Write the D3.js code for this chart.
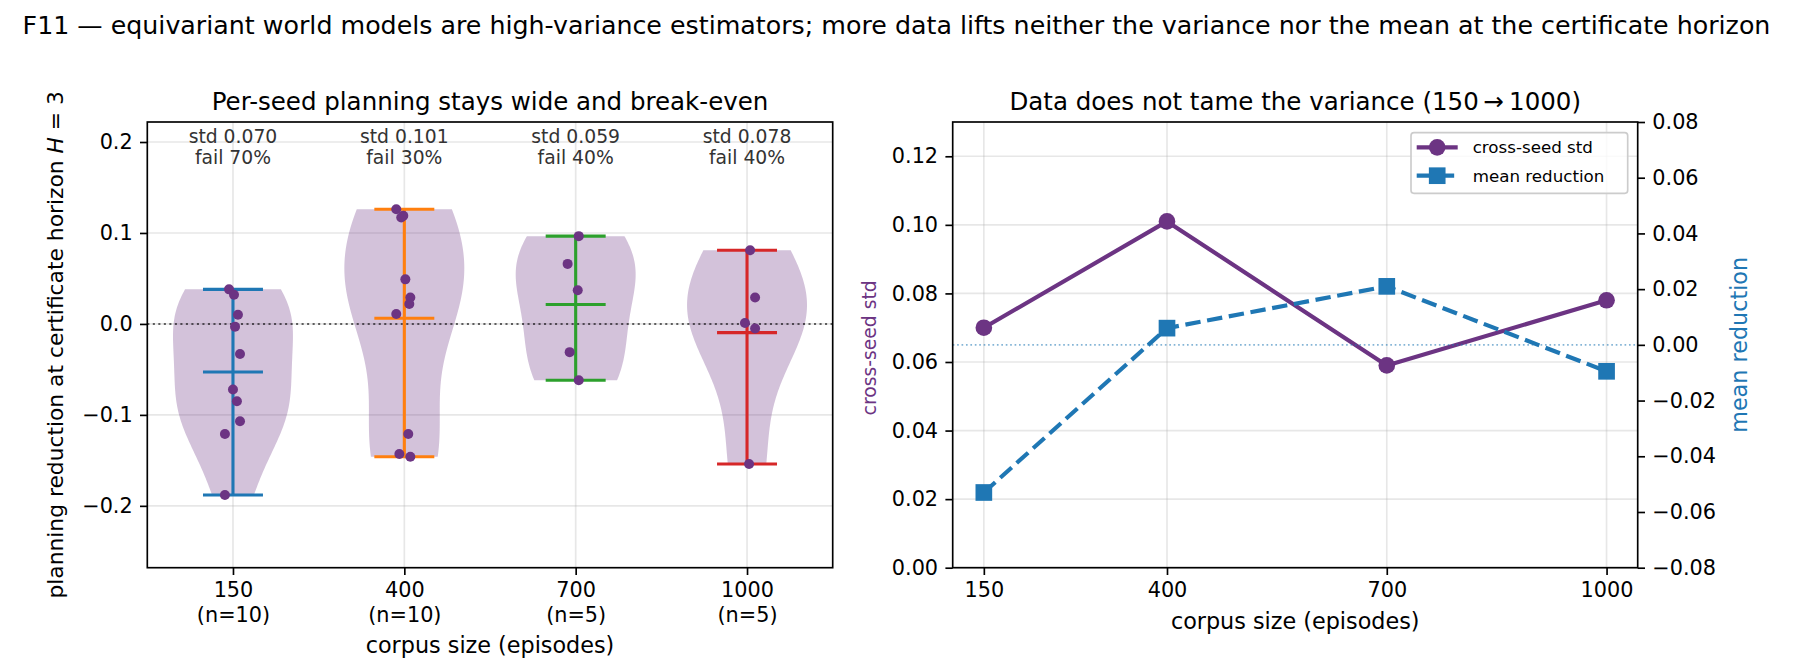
<!DOCTYPE html>
<html><head><meta charset="utf-8">
<script src="https://cdn.jsdelivr.net/npm/d3@7"></script>
<style>
body{margin:0;background:#fff}
svg{display:block}
text{font-family:"DejaVu Sans",sans-serif}
</style>
</head><body>
<svg id="chart" width="1793" height="672"></svg>
<script>
// ---------------- data ----------------
const corpusSizes = [150, 400, 700, 1000];
const seedCounts = [10, 10, 5, 5];
const seeds150 = [0.038, 0.032, 0.010, -0.003, -0.033, -0.072, -0.085, -0.107, -0.121, -0.188];
const seeds400 = [0.126, 0.119, 0.117, 0.049, 0.029, 0.022, 0.011, -0.121, -0.143, -0.146];
const seeds700 = [0.0965, 0.066, 0.037, -0.031, -0.062];
const seeds1000 = [0.081, 0.029, 0.001, -0.005, -0.154];
// horizontal jitter of each seed dot (category units)
const jitter150 = [-0.023, 0.006, 0.029, 0.012, 0.041, 0.0, 0.023, 0.041, -0.047, -0.047];
const jitter400 = [-0.047, -0.006, -0.018, 0.006, 0.035, 0.029, -0.047, 0.023, -0.029, 0.035];
const jitter700 = [0.018, -0.047, 0.012, -0.035, 0.018];
const jitter1000 = [0.018, 0.047, -0.012, 0.047, 0.012];
const stdLabels = ["std 0.070", "std 0.101", "std 0.059", "std 0.078"];
const failLabels = ["fail 70%", "fail 30%", "fail 40%", "fail 40%"];
const crossSeedStd = [0.070, 0.101, 0.059, 0.078];
const meanReduction = [-0.053, 0.006, 0.021, -0.0095];
const leftYTicks = [-0.2, -0.1, 0.0, 0.1, 0.2];
const stdTicks = [0, 0.02, 0.04, 0.06, 0.08, 0.10, 0.12];
const meanTicks = [-0.08, -0.06, -0.04, -0.02, 0, 0.02, 0.04, 0.06, 0.08];
const groupColors = ["#1f77b4", "#ff7f0e", "#2ca02c", "#d62728"];
const legendLabels = ["cross-seed std", "mean reduction"];

// ---------------- setup ----------------
const PURPLE = "#6c3483", BLUE = "#1f77b4";
const FS_TICK = 20.8, FS_LABEL = 22.3, FS_SUP = 25.3, FS_TITLE = 24.5, FS_ANN = 18.75, FS_LEG = 16.7;
const TICK = 7.3, PAD = 7.3, LW = 1.67;
const svg = d3.select("#chart");
svg.append("rect").attr("width", 1793).attr("height", 672).attr("fill", "#fff");

const seeds = [seeds150, seeds400, seeds700, seeds1000];
const jitters = [jitter150, jitter400, jitter700, jitter1000];

const L = {x0: 147.3, x1: 832.7, y0: 122, y1: 567.7};
const R = {x0: 952.7, x1: 1637.7, y0: 122, y1: 567.7};

// suptitle
svg.append("text").attr("x", 896.5).attr("y", 34).attr("text-anchor", "middle")
  .attr("font-size", FS_SUP).attr("fill", "#000")
  .text("F11 \u2014 equivariant world models are high-variance estimators; more data lifts neither the variance nor the mean at the certificate horizon");

function styleAxis(g) {
  g.select(".domain").remove();
  g.selectAll(".tick line").attr("stroke", "#000").attr("stroke-width", LW);
  g.selectAll(".tick text").attr("font-size", FS_TICK).attr("fill", "#000")
    .attr("font-family", "DejaVu Sans");
}

// ================= LEFT PANEL =================
const xL = d3.scaleLinear().domain([0.5, 4.5]).range([L.x0, L.x1]);
const yL = d3.scaleLinear().domain([-0.268, 0.222]).range([L.y1, L.y0]);
const gL = svg.append("g");

// grid
gL.append("g").selectAll("line").data(leftYTicks).join("line")
  .attr("x1", L.x0).attr("x2", L.x1).attr("y1", d => yL(d)).attr("y2", d => yL(d))
  .attr("stroke", "#b0b0b0").attr("stroke-opacity", 0.3).attr("stroke-width", LW);
gL.append("g").selectAll("line").data(corpusSizes).join("line")
  .attr("x1", (d, i) => xL(i + 1)).attr("x2", (d, i) => xL(i + 1)).attr("y1", L.y0).attr("y2", L.y1)
  .attr("stroke", "#b0b0b0").attr("stroke-opacity", 0.3).attr("stroke-width", LW);

// violins (Gaussian KDE, Scott bandwidth, as matplotlib violinplot)
function kdeShape(data) {
  const n = data.length, m = d3.mean(data);
  const v = d3.sum(data, x => (x - m) ** 2) / (n - 1);
  const f = Math.pow(n, -0.2);
  const h2 = v * f * f;
  const lo = d3.min(data), hi = d3.max(data);
  const coords = d3.range(100).map(i => lo + (hi - lo) * i / 99);
  const vals = coords.map(c => d3.sum(data, x => Math.exp(-((c - x) ** 2) / (2 * h2))));
  const mx = d3.max(vals);
  return coords.map((c, i) => ({c, w: 0.5 * 0.7 * vals[i] / mx}));
}
seeds.forEach((data, i) => {
  const pos = i + 1;
  const shape = kdeShape(data);
  const area = d3.area().y(d => yL(d.c)).x0(d => xL(pos - d.w)).x1(d => xL(pos + d.w));
  gL.append("path").attr("d", area(shape)).attr("fill", PURPLE).attr("fill-opacity", 0.3);
});

// zero line
gL.append("line").attr("x1", L.x0).attr("x2", L.x1).attr("y1", yL(0)).attr("y2", yL(0))
  .attr("stroke", "#000").attr("stroke-opacity", 0.6).attr("stroke-width", 2.08)
  .attr("stroke-dasharray", "2.08,3.43");

// bars, caps, means
seeds.forEach((data, i) => {
  const pos = i + 1, c = groupColors[i];
  const lo = d3.min(data), hi = d3.max(data), m = d3.mean(data);
  const g = gL.append("g").attr("stroke", c).attr("stroke-width", 3.1);
  g.append("line").attr("x1", xL(pos)).attr("x2", xL(pos)).attr("y1", yL(lo)).attr("y2", yL(hi));
  [lo, hi, m].forEach(val => {
    g.append("line").attr("x1", xL(pos - 0.175)).attr("x2", xL(pos + 0.175))
      .attr("y1", yL(val)).attr("y2", yL(val));
  });
});

// seed dots
seeds.forEach((data, i) => {
  gL.append("g").selectAll("circle").data(data).join("circle")
    .attr("cx", (d, k) => xL(i + 1 + jitters[i][k])).attr("cy", d => yL(d))
    .attr("r", 5).attr("fill", PURPLE);
});

// annotations
corpusSizes.forEach((d, i) => {
  const t = gL.append("text").attr("text-anchor", "middle").attr("font-size", FS_ANN).attr("fill", "#333");
  t.append("tspan").attr("x", xL(i + 1)).attr("y", 143).text(stdLabels[i]);
  t.append("tspan").attr("x", xL(i + 1)).attr("y", 164).text(failLabels[i]);
});

// frame
gL.append("rect").attr("x", L.x0).attr("y", L.y0).attr("width", L.x1 - L.x0).attr("height", L.y1 - L.y0)
  .attr("fill", "none").attr("stroke", "#000").attr("stroke-width", LW);

// axes
const axL = gL.append("g").attr("transform", `translate(${L.x0},0)`)
  .call(d3.axisLeft(yL).tickValues(leftYTicks).tickFormat(d3.format(".1f")).tickSize(TICK).tickPadding(PAD));
styleAxis(axL);
const axB = gL.append("g").attr("transform", `translate(0,${L.y1})`)
  .call(d3.axisBottom(xL).tickValues([1, 2, 3, 4]).tickFormat("").tickSize(TICK).tickPadding(PAD));
styleAxis(axB);
axB.selectAll(".tick").each(function(d) {
  const t = d3.select(this).append("text").attr("text-anchor", "middle").attr("font-size", FS_TICK)
    .attr("fill", "#000").attr("y", TICK + PAD);
  t.append("tspan").attr("x", 0).attr("dy", "0.71em").text(corpusSizes[d - 1]);
  t.append("tspan").attr("x", 0).attr("dy", "1.2em").text(`(n=${seedCounts[d - 1]})`);
});

// labels & title
gL.append("text").attr("x", (L.x0 + L.x1) / 2).attr("y", 110).attr("text-anchor", "middle")
  .attr("font-size", FS_TITLE).text("Per-seed planning stays wide and break-even");
gL.append("text").attr("x", (L.x0 + L.x1) / 2).attr("y", 653).attr("text-anchor", "middle")
  .attr("font-size", FS_LABEL).text("corpus size (episodes)");
const yl = gL.append("text").attr("transform", `translate(63,${(L.y0 + L.y1) / 2}) rotate(-90)`)
  .attr("text-anchor", "middle").attr("font-size", 21.8);
yl.append("tspan").text("planning reduction at certificate horizon ");
yl.append("tspan").attr("font-style", "italic").text("H");
yl.append("tspan").text(" = 3");

// ================= RIGHT PANEL =================
const xR = d3.scaleLinear().domain([107.5, 1042.5]).range([R.x0, R.x1]);
const yS = d3.scaleLinear().domain([0, 0.13]).range([R.y1, R.y0]);
const yM = d3.scaleLinear().domain([-0.08, 0.08]).range([R.y1, R.y0]);
const gR = svg.append("g");

gR.append("g").selectAll("line").data(stdTicks).join("line")
  .attr("x1", R.x0).attr("x2", R.x1).attr("y1", d => yS(d)).attr("y2", d => yS(d))
  .attr("stroke", "#b0b0b0").attr("stroke-opacity", 0.3).attr("stroke-width", LW);
gR.append("g").selectAll("line").data(corpusSizes).join("line")
  .attr("x1", d => xR(d)).attr("x2", d => xR(d)).attr("y1", R.y0).attr("y2", R.y1)
  .attr("stroke", "#b0b0b0").attr("stroke-opacity", 0.3).attr("stroke-width", LW);

// std line
gR.append("path").datum(crossSeedStd)
  .attr("d", d3.line().x((d, i) => xR(corpusSizes[i])).y(d => yS(d)))
  .attr("fill", "none").attr("stroke", PURPLE).attr("stroke-width", 4.17).attr("stroke-linejoin", "round");
gR.append("g").selectAll("circle").data(crossSeedStd).join("circle")
  .attr("cx", (d, i) => xR(corpusSizes[i])).attr("cy", d => yS(d)).attr("r", 8.33).attr("fill", PURPLE);

// zero line (twin axis)
gR.append("line").attr("x1", R.x0).attr("x2", R.x1).attr("y1", yM(0)).attr("y2", yM(0))
  .attr("stroke", BLUE).attr("stroke-opacity", 0.55).attr("stroke-width", 1.67)
  .attr("stroke-dasharray", "1.67,2.75");

// mean line
gR.append("path").datum(meanReduction)
  .attr("d", d3.line().x((d, i) => xR(corpusSizes[i])).y(d => yM(d)))
  .attr("fill", "none").attr("stroke", BLUE).attr("stroke-width", 4.17)
  .attr("stroke-dasharray", "15.4,6.67");
gR.append("g").selectAll("rect").data(meanReduction).join("rect")
  .attr("x", (d, i) => xR(corpusSizes[i]) - 8.33).attr("y", d => yM(d) - 8.33)
  .attr("width", 16.67).attr("height", 16.67).attr("fill", BLUE);

// frame
gR.append("rect").attr("x", R.x0).attr("y", R.y0).attr("width", R.x1 - R.x0).attr("height", R.y1 - R.y0)
  .attr("fill", "none").attr("stroke", "#000").attr("stroke-width", LW);

const axRL = gR.append("g").attr("transform", `translate(${R.x0},0)`)
  .call(d3.axisLeft(yS).tickValues(stdTicks).tickFormat(d3.format(".2f")).tickSize(TICK).tickPadding(PAD));
styleAxis(axRL);
const axRR = gR.append("g").attr("transform", `translate(${R.x1},0)`)
  .call(d3.axisRight(yM).tickValues(meanTicks).tickFormat(d3.format(".2f")).tickSize(TICK).tickPadding(PAD));
styleAxis(axRR);
const axRB = gR.append("g").attr("transform", `translate(0,${R.y1})`)
  .call(d3.axisBottom(xR).tickValues(corpusSizes).tickFormat(d3.format("d")).tickSize(TICK).tickPadding(PAD));
styleAxis(axRB);

gR.append("text").attr("x", (R.x0 + R.x1) / 2).attr("y", 110).attr("text-anchor", "middle")
  .attr("font-size", FS_TITLE).text("Data does not tame the variance (150\u2009\u2192\u20091000)");
gR.append("text").attr("x", (R.x0 + R.x1) / 2).attr("y", 629).attr("text-anchor", "middle")
  .attr("font-size", FS_LABEL).text("corpus size (episodes)");
gR.append("text").attr("transform", `translate(876,${(R.y0 + R.y1) / 2 + 3}) rotate(-90)`)
  .attr("text-anchor", "middle").attr("font-size", 18.75).attr("fill", PURPLE).text("cross-seed std");
gR.append("text").attr("transform", `translate(1747,${(R.y0 + R.y1) / 2}) rotate(-90)`)
  .attr("text-anchor", "middle").attr("font-size", FS_LABEL).attr("fill", BLUE).text("mean reduction");

// legend
const lg = gR.append("g");
lg.append("rect").attr("x", 1411).attr("y", 132.7).attr("width", 216.7).attr("height", 60.6)
  .attr("rx", 3).attr("fill", "#fff").attr("fill-opacity", 0.8).attr("stroke", "#cccccc").attr("stroke-width", 1.67);
const legRows = [147.3, 175.7];
legendLabels.forEach((lab, i) => {
  const yy = legRows[i], c = i === 0 ? PURPLE : BLUE;
  lg.append("line").attr("x1", 1416.7).attr("x2", 1457.7).attr("y1", yy).attr("y2", yy)
    .attr("stroke", c).attr("stroke-width", 4.17).attr("stroke-dasharray", i === 0 ? null : "15.4,6.67");
  if (i === 0) lg.append("circle").attr("cx", 1437.2).attr("cy", yy).attr("r", 8.33).attr("fill", c);
  else lg.append("rect").attr("x", 1437.2 - 8.33).attr("y", yy - 8.33).attr("width", 16.67).attr("height", 16.67).attr("fill", c);
  lg.append("text").attr("x", 1472.7).attr("y", yy).attr("dy", "0.35em").attr("font-size", FS_LEG).text(lab);
});
</script>
</body></html>
